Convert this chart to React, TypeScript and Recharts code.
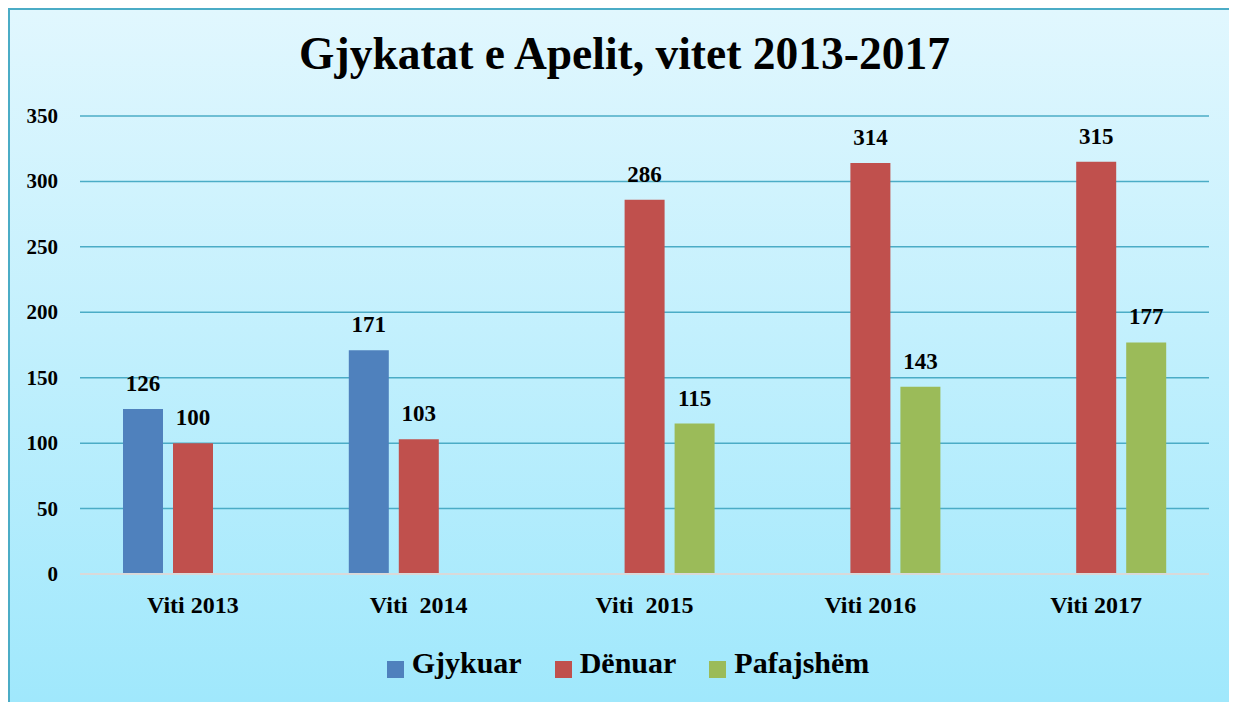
import { BarChart, Bar, XAxis, YAxis, CartesianGrid, Legend } from "recharts"

const years = ["Viti 2013", "Viti  2014", "Viti  2015", "Viti 2016", "Viti 2017"]
const gjykuar = [126, 171, null, null, null]
const denuar = [100, 103, 286, 314, 315]
const pafajshem = [null, null, 115, 143, 177]
const yTicks = [0, 50, 100, 150, 200, 250, 300, 350]
const seriesNames = ["Gjykuar", "Dënuar", "Pafajshëm"]

const data = years.map((year, i) => ({
  year,
  gjykuar: gjykuar[i],
  denuar: denuar[i],
  pafajshem: pafajshem[i],
}))

const font = "'Times New Roman', Times, 'Liberation Serif', 'DejaVu Serif', serif"

function YearTick({ x, y, payload }: any) {
  return (
    <text
      x={x}
      y={y}
      dy={31}
      textAnchor="middle"
      xmlSpace="preserve"
      style={{ whiteSpace: "pre" }}
      fontFamily={font}
      fontWeight={700}
      fontSize={24}
      fill="#000"
    >
      {payload.value}
    </text>
  )
}

function ValueTick({ x, y, payload }: any) {
  return (
    <text x={x} y={y} dy={7} textAnchor="end" fontFamily={font} fontWeight={700} fontSize={21} fill="#000">
      {payload.value}
    </text>
  )
}

function BarValue({ x, y, width, value }: any) {
  if (value == null) return null
  return (
    <text x={x + width / 2} y={y - 18} textAnchor="middle" fontFamily={font} fontWeight={700} fontSize={23} fill="#000">
      {value}
    </text>
  )
}

export default function App() {
  return (
    <div
      style={{
        position: "relative",
        width: 1229,
        height: 694,
        boxSizing: "border-box",
        borderLeft: "2px solid #4BACC6",
        borderTop: "2px solid #4BACC6",
        background: "linear-gradient(to bottom, #E1F7FE 0%, #A0E8FC 100%)",
        fontFamily: font,
      }}
    >
      <div
        style={{
          position: "absolute",
          top: 17,
          left: 0,
          width: 1229,
          textAlign: "center",
          fontSize: 45.5,
          fontWeight: 700,
          color: "#000",
        }}
      >
        Gjykatat e Apelit, vitet 2013-2017
      </div>
      <div style={{ position: "absolute", top: -2, left: -2 }}>
        <BarChart
          width={1229}
          height={694}
          data={data}
          margin={{ top: 108, right: 28, bottom: 22, left: 0 }}
          barSize={40}
          barGap={10}
        >
          <CartesianGrid vertical={false} stroke="#4BACC6" strokeWidth={1.5} />
          <XAxis
            dataKey="year"
            height={72}
            tickSize={0}
            tickMargin={8}
            axisLine={{ stroke: "#D9D9D9", strokeWidth: 2 }}
            tick={<YearTick />}
          />
          <YAxis
            width={72}
            domain={[0, 350]}
            ticks={yTicks}
            tickSize={0}
            tickMargin={22}
            axisLine={false}
            tick={<ValueTick />}
          />
          <Legend
            verticalAlign="bottom"
            iconType="square"
            iconSize={17}
            itemSorter={(item: any) => seriesNames.indexOf(item.value)}
            wrapperStyle={{ fontFamily: font, paddingLeft: 36 }}
            formatter={(value) => (
              <span
                style={{
                  color: "#000",
                  fontFamily: font,
                  fontWeight: 700,
                  fontSize: 30,
                  marginRight: 23,
                  marginLeft: 4,
                }}
              >
                {value}
              </span>
            )}
          />
          <Bar dataKey="gjykuar" name="Gjykuar" fill="#4F81BD" isAnimationActive={false} label={<BarValue />} />
          <Bar dataKey="denuar" name="Dënuar" fill="#C0504D" isAnimationActive={false} label={<BarValue />} />
          <Bar dataKey="pafajshem" name="Pafajshëm" fill="#9BBB59" isAnimationActive={false} label={<BarValue />} />
        </BarChart>
      </div>
    </div>
  )
}
